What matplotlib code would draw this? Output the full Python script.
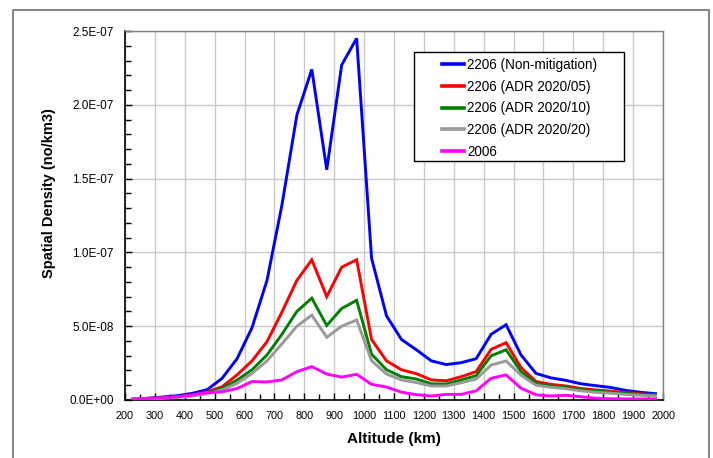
import matplotlib
matplotlib.use("Agg")
import matplotlib.pyplot as plt
from matplotlib.ticker import MultipleLocator, FuncFormatter
from matplotlib.patches import Rectangle

plt.rcParams['font.family'] = ['Liberation Sans', 'DejaVu Sans']

altitude = list(range(225, 2000, 50))

non_mitigation = [0.05, 0.12, 0.2, 0.29, 0.45, 0.7, 1.47, 2.8, 4.9, 8.1, 13.2, 19.3, 22.4, 15.6, 22.7, 24.5,
                  9.6, 5.7, 4.1, 3.4, 2.65, 2.4, 2.53, 2.8, 4.45, 5.1, 3.05, 1.8, 1.5, 1.33, 1.1, 0.97,
                  0.85, 0.65, 0.52, 0.43]
adr_05 = [0.05, 0.1, 0.15, 0.22, 0.33, 0.55, 0.9, 1.7, 2.65, 3.95, 5.95, 8.1, 9.5, 7.0, 9.0, 9.5,
          4.1, 2.65, 2.05, 1.78, 1.36, 1.3, 1.58, 1.92, 3.43, 3.88, 2.2, 1.25, 1.06, 0.95, 0.78, 0.68,
          0.6, 0.5, 0.42, 0.35]
adr_10 = [0.05, 0.1, 0.14, 0.2, 0.3, 0.5, 0.78, 1.35, 2.05, 3.05, 4.45, 6.0, 6.9, 5.05, 6.2, 6.75,
          3.1, 2.05, 1.58, 1.42, 1.1, 1.08, 1.36, 1.65, 3.0, 3.4, 1.92, 1.13, 0.95, 0.86, 0.7, 0.6,
          0.53, 0.45, 0.38, 0.3]
adr_20 = [0.04, 0.08, 0.12, 0.17, 0.26, 0.42, 0.68, 1.13, 1.8, 2.65, 3.8, 5.0, 5.75, 4.25, 5.0, 5.42,
          2.66, 1.76, 1.36, 1.18, 0.95, 0.95, 1.17, 1.42, 2.37, 2.64, 1.68, 1.0, 0.86, 0.77, 0.62, 0.52,
          0.46, 0.38, 0.32, 0.27]
y2006 = [0.05, 0.1, 0.15, 0.22, 0.35, 0.5, 0.55, 0.78, 1.25, 1.22, 1.36, 1.92, 2.26, 1.76, 1.55, 1.74,
         1.06, 0.88, 0.53, 0.36, 0.27, 0.38, 0.38, 0.62, 1.47, 1.7, 0.8, 0.35, 0.27, 0.32, 0.22, 0.12,
         0.08, 0.07, 0.07, 0.07]
scale = 1e-8

series = [
    ("2206 (Non-mitigation)", non_mitigation, "#0000FF"),
    ("2206 (ADR 2020/05)", adr_05, "#FF0000"),
    ("2206 (ADR 2020/10)", adr_10, "#008000"),
    ("2206 (ADR 2020/20)", adr_20, "#999999"),
    ("2006", y2006, "#FF00FF"),
]

fig = plt.figure(figsize=(7.13, 4.58), dpi=100)
fig.patch.set_facecolor("white")
ax = fig.add_axes([125/713, 58/458, 538/713, 369/458])

for label, vals, color in series:
    ax.plot(altitude, [v * scale for v in vals], color=color, lw=2.1, label=label,
            solid_joinstyle='miter', zorder=3)

ax.set_xlim(200, 2000)
ax.set_ylim(0, 2.5e-7)
ax.xaxis.set_major_locator(MultipleLocator(100))
ax.xaxis.set_minor_locator(MultipleLocator(50))
ax.yaxis.set_major_locator(MultipleLocator(5e-8))
ax.yaxis.set_minor_locator(MultipleLocator(1e-8))
ax.yaxis.set_major_formatter(FuncFormatter(lambda v, p: f"{v:.1E}"))
ax.yaxis.get_offset_text().set_visible(False)

ax.grid(True, which='major', color='#c8c8c8', lw=1.0)
ax.set_axisbelow(True)
ax.tick_params(axis='both', which='both', direction='in', color='black', width=1)
ax.tick_params(axis='both', which='major', length=5)
ax.tick_params(axis='both', which='minor', length=4)
ax.tick_params(axis='x', which='major', labelsize=7.8, pad=8)
ax.tick_params(axis='y', which='major', labelsize=8.5, pad=8)

for s in ['top', 'right']:
    ax.spines[s].set_color('#808080')
    ax.spines[s].set_linewidth(1.0)
for s in ['left', 'bottom']:
    ax.spines[s].set_color('black')
    ax.spines[s].set_linewidth(1.2)

ax.set_xlabel("Altitude (km)", fontsize=11, fontweight='bold')
ax.set_ylabel("Spatial Density (no/km3)", fontsize=10.5, fontweight='bold')
ax.xaxis.set_label_coords(0.5, -0.088)
ax.yaxis.set_label_coords(-0.128, 0.56)

# legend box (Excel-like wide padding)
box = Rectangle((0.537, 0.6477), 0.9275 - 0.537, 0.943 - 0.6477, transform=ax.transAxes,
                facecolor='white', edgecolor='black', lw=1.0, zorder=4)
ax.add_patch(box)
leg = ax.legend(loc='center', bbox_to_anchor=(0.734, 0.790), fontsize=9.75,
                frameon=False, handlelength=1.6, handletextpad=0.25,
                labelspacing=0.57, borderpad=0, borderaxespad=0)
leg.set_zorder(5)
for line in leg.get_lines():
    line.set_linewidth(2.6)

frame = Rectangle((13/713, -0.05), (709-13)/713, (448/458) + 0.05, transform=fig.transFigure,
                  fill=False, edgecolor='#707070', lw=1.2, clip_on=False)
fig.patches.append(frame)

fig.savefig("out.png", dpi=100)
